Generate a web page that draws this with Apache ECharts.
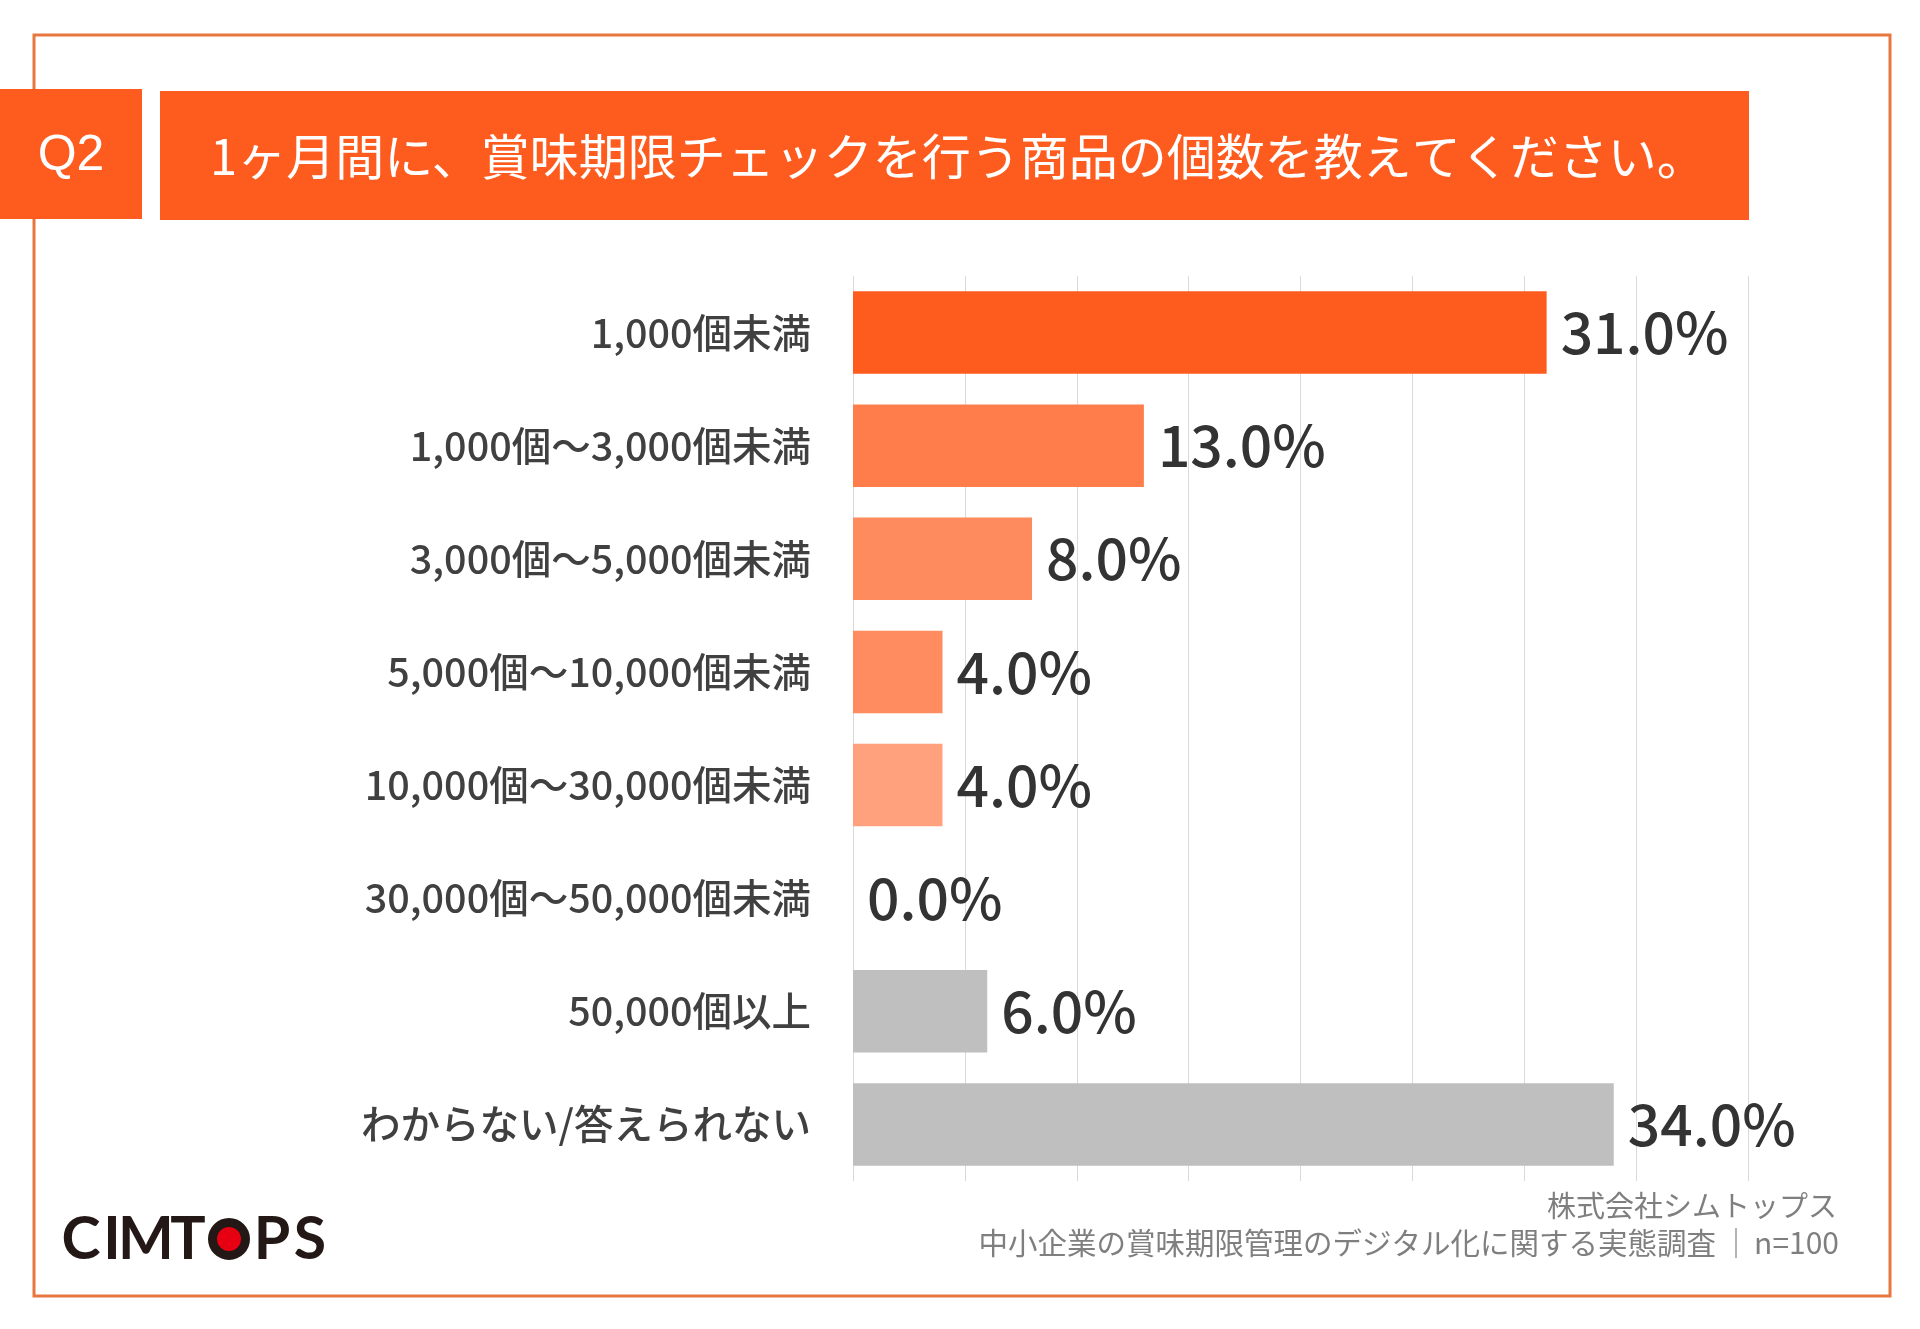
<!DOCTYPE html>
<html>
<head>
<meta charset="utf-8">
<script src="https://cdn.jsdelivr.net/npm/echarts@6/dist/echarts.min.js"></script>
<style>
html,body{margin:0;padding:0;background:#fff;}
#chart{width:1920px;height:1329px;}
</style>
</head>
<body>
<div id="chart"></div>
<script>
const categories = [
  '1,000個未満',
  '1,000個～3,000個未満',
  '3,000個～5,000個未満',
  '5,000個～10,000個未満',
  '10,000個～30,000個未満',
  '30,000個～50,000個未満',
  '50,000個以上',
  'わからない/答えられない'
];
const values = [31.0, 13.0, 8.0, 4.0, 4.0, 0.0, 6.0, 34.0];
const barColors = ['#FE5B1F', '#FE7D4B', '#FE8B5E', '#FE8C60', '#FEA17C', '#FEA17C', '#BFBFBF', '#BFBFBF'];
const xTicks = [0, 5, 10, 15, 20, 25, 30, 35, 40];

const titleText = '1ヶ月間に、賞味期限チェックを行う商品の個数を教えてください。';
const footerLine1 = '株式会社シムトップス';
const footerLine2 = '中小企業の賞味期限管理のデジタル化に関する実態調査';
const footerN = 'n=100';

const JP = '"Noto Sans CJK JP", "Noto Sans", sans-serif';

const chart = echarts.init(document.getElementById('chart'), null, {renderer: 'canvas'});

const logoLetters = [
  {t: 'C', x: 81}, {t: 'I', x: 112}, {t: 'M', x: 146}, {t: 'T', x: 188},
  {t: 'P', x: 272}, {t: 'S', x: 310}
];

const graphics = [
  {type: 'rect', shape: {x: 34, y: 35, width: 1856, height: 1261},
   style: {fill: 'none', stroke: '#E8763F', lineWidth: 3}},
  {type: 'rect', shape: {x: 0, y: 89, width: 142, height: 130},
   style: {fill: '#FE5B1F'}},
  {type: 'text', x: 71, y: 156,
   style: {text: 'Q2', fill: '#fff', font: '50px "Liberation Sans", Arial, sans-serif', textAlign: 'center', textVerticalAlign: 'middle'}},
  {type: 'rect', shape: {x: 160, y: 91, width: 1589, height: 129},
   style: {fill: '#FE5B1F'}},
  {type: 'text', x: 210, y: 156,
   style: {text: titleText, fill: '#fff', font: '49px ' + JP, textAlign: 'left', textVerticalAlign: 'middle'}},
  {type: 'text', x: 1837, y: 1206,
   style: {text: footerLine1, fill: '#7F7F7F', font: '29px ' + JP, textAlign: 'right', textVerticalAlign: 'middle'}},
  {type: 'text', x: 1716, y: 1243,
   style: {text: footerLine2, fill: '#7F7F7F', font: '29.5px ' + JP, textAlign: 'right', textVerticalAlign: 'middle'}},
  {type: 'line', shape: {x1: 1736, y1: 1228, x2: 1736, y2: 1258},
   style: {stroke: '#9A9A9A', lineWidth: 1.5}},
  {type: 'text', x: 1839, y: 1243,
   style: {text: footerN, fill: '#7F7F7F', font: '30px ' + JP, textAlign: 'right', textVerticalAlign: 'middle'}},
  {type: 'circle', shape: {cx: 229, cy: 1239, r: 16.5},
   style: {fill: '#E60012', stroke: '#231815', lineWidth: 9}}
];
logoLetters.forEach(l => {
  graphics.push({type: 'text', x: l.x, y: 1240,
    style: {text: l.t, fill: '#231815', font: 'bold 59px Lato, "DejaVu Sans", sans-serif', textAlign: 'center', textVerticalAlign: 'middle'}});
});

const option = {
  backgroundColor: '#ffffff',
  animation: false,
  grid: {left: 853, width: 895, top: 276, height: 905, containLabel: false},
  xAxis: {
    type: 'value', min: xTicks[0], max: xTicks[xTicks.length - 1], interval: 5,
    axisLabel: {show: false}, axisLine: {show: false}, axisTick: {show: false},
    splitLine: {show: true, lineStyle: {color: '#D9D9D9', width: 1}}
  },
  yAxis: {
    type: 'category', data: categories, inverse: true,
    axisLine: {show: false}, axisTick: {show: false},
    axisLabel: {margin: 42, fontSize: 39.5, fontWeight: 500, color: '#404040', fontFamily: JP}
  },
  series: [{
    type: 'bar',
    barWidth: '73%',
    data: values.map((v, i) => ({value: v, itemStyle: {color: barColors[i]}})),
    label: {
      show: true, position: 'right', distance: 14,
      formatter: p => p.value.toFixed(1) + '%',
      fontSize: 57, fontWeight: 500, color: '#333333', fontFamily: JP
    }
  }],
  graphic: graphics
};
chart.setOption(option);
</script>
</body>
</html>
